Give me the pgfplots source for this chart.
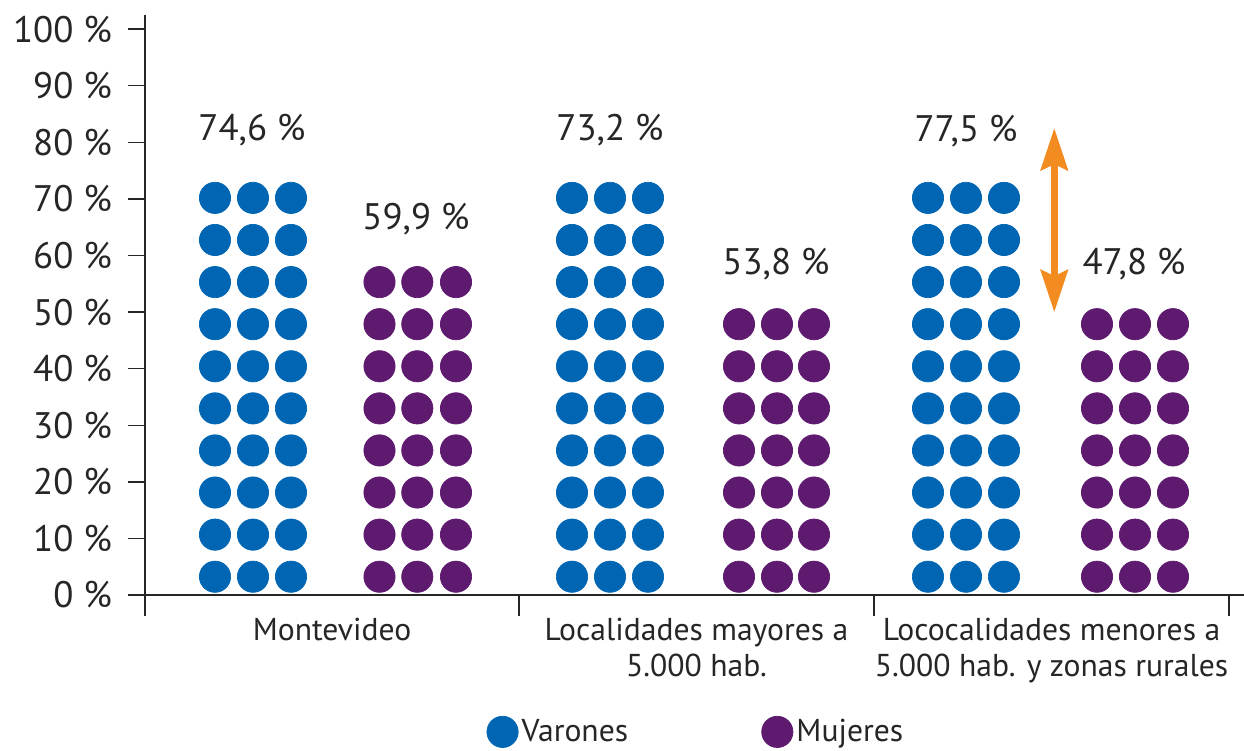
\documentclass[border=0pt]{standalone}
\usepackage{fontspec}
\setmainfont{PT Sans}
\usepackage{pgfplots}
\pgfplotsset{compat=1.18}
\usetikzlibrary{arrows.meta}
\definecolor{varon}{HTML}{0066B3}
\definecolor{mujer}{HTML}{5E1A6E}
\definecolor{flecha}{HTML}{F28B20}
\definecolor{texto}{HTML}{262626}

\begin{document}
\begin{tikzpicture}
\begin{axis}[
  scale only axis, width=21.98cm, height=11.6cm,
  at={(0,0)}, anchor=south west,
  xmin=0, xmax=1099, ymin=0, ymax=102.5,
  axis lines*=left, clip=false,
  axis line style={texto, line width=0.8pt},
  every tick/.style={texto, line width=0.8pt},
  tick align=outside,
  major tick length=0.34cm, minor tick length=0.42cm,
  ytick={0,10,...,100},
  yticklabels={0 \%,10 \%,20 \%,30 \%,40 \%,50 \%,60 \%,70 \%,80 \%,90 \%,100 \%},
  yticklabel style={font=\fontsize{21}{24}\selectfont, text=texto, xshift=-0.2cm},
  xtick={187,551.5,906.5},
  xticklabels={Montevideo, Localidades mayores a\\5.000 hab., Lococalidades menores a\\5.000 hab. y zonas rurales},
  xticklabel style={font=\fontsize{18}{20.5}\selectfont, text=texto, align=center},
  major x tick style={draw=none},
  minor xtick={0,374,729,1084},
  legend columns=2,
  legend style={at={(0.306,-0.236)}, anchor=west, draw=none, fill=none,
    font=\fontsize{18}{20}\selectfont, text=texto,
    /tikz/every even column/.append style={column sep=2.6cm}},
]
% Varones: 3 columnas por zona, una fila por cada 10 % aprox.
\addplot[only marks, mark=*, color=varon, mark size=8.9pt] coordinates {
  (70,3.23) (108,3.23) (146,3.23)
  (70,10.67) (108,10.67) (146,10.67)
  (70,18.11) (108,18.11) (146,18.11)
  (70,25.55) (108,25.55) (146,25.55)
  (70,32.98) (108,32.98) (146,32.98)
  (70,40.42) (108,40.42) (146,40.42)
  (70,47.86) (108,47.86) (146,47.86)
  (70,55.30) (108,55.30) (146,55.30)
  (70,62.74) (108,62.74) (146,62.74)
  (70,70.18) (108,70.18) (146,70.18)
  (427,3.23) (465,3.23) (503,3.23)
  (427,10.67) (465,10.67) (503,10.67)
  (427,18.11) (465,18.11) (503,18.11)
  (427,25.55) (465,25.55) (503,25.55)
  (427,32.98) (465,32.98) (503,32.98)
  (427,40.42) (465,40.42) (503,40.42)
  (427,47.86) (465,47.86) (503,47.86)
  (427,55.30) (465,55.30) (503,55.30)
  (427,62.74) (465,62.74) (503,62.74)
  (427,70.18) (465,70.18) (503,70.18)
  (783,3.23) (821,3.23) (859,3.23)
  (783,10.67) (821,10.67) (859,10.67)
  (783,18.11) (821,18.11) (859,18.11)
  (783,25.55) (821,25.55) (859,25.55)
  (783,32.98) (821,32.98) (859,32.98)
  (783,40.42) (821,40.42) (859,40.42)
  (783,47.86) (821,47.86) (859,47.86)
  (783,55.30) (821,55.30) (859,55.30)
  (783,62.74) (821,62.74) (859,62.74)
  (783,70.18) (821,70.18) (859,70.18)
};
\addlegendentry{Varones}
% Mujeres
\addplot[only marks, mark=*, color=mujer, mark size=8.9pt] coordinates {
  (234.5,3.23) (272.3,3.23) (311,3.23)
  (234.5,10.67) (272.3,10.67) (311,10.67)
  (234.5,18.11) (272.3,18.11) (311,18.11)
  (234.5,25.55) (272.3,25.55) (311,25.55)
  (234.5,32.98) (272.3,32.98) (311,32.98)
  (234.5,40.42) (272.3,40.42) (311,40.42)
  (234.5,47.86) (272.3,47.86) (311,47.86)
  (234.5,55.30) (272.3,55.30) (311,55.30)
  (594,3.23) (632,3.23) (669,3.23)
  (594,10.67) (632,10.67) (669,10.67)
  (594,18.11) (632,18.11) (669,18.11)
  (594,25.55) (632,25.55) (669,25.55)
  (594,32.98) (632,32.98) (669,32.98)
  (594,40.42) (632,40.42) (669,40.42)
  (594,47.86) (632,47.86) (669,47.86)
  (952,3.23) (990,3.23) (1028,3.23)
  (952,10.67) (990,10.67) (1028,10.67)
  (952,18.11) (990,18.11) (1028,18.11)
  (952,25.55) (990,25.55) (1028,25.55)
  (952,32.98) (990,32.98) (1028,32.98)
  (952,40.42) (990,40.42) (1028,40.42)
  (952,47.86) (990,47.86) (1028,47.86)
};
\addlegendentry{Mujeres}

\begin{scope}[every node/.style={font=\fontsize{21}{24}\selectfont, text=texto}]
\node at (axis cs:107,82.2) {74,6 \%};
\node at (axis cs:271,66.4) {59,9 \%};
\node at (axis cs:465,82.2) {73,2 \%};
\node at (axis cs:631,58.5) {53,8 \%};
\node at (axis cs:821,82.0) {77,5 \%};
\node at (axis cs:989,58.5) {47,8 \%};
\end{scope}
\draw[flecha, line width=0.14cm,
  {Stealth[length=0.84cm, width=0.54cm, inset=0.12cm]}-{Stealth[length=0.84cm, width=0.54cm, inset=0.12cm]}]
  (axis cs:909.3,82.5) -- (axis cs:909.3,50.0);
\end{axis}
\pgfresetboundingbox
\path[use as bounding box] (-2.9,-3.1) rectangle (21.98,11.9);
\end{tikzpicture}
\end{document}
